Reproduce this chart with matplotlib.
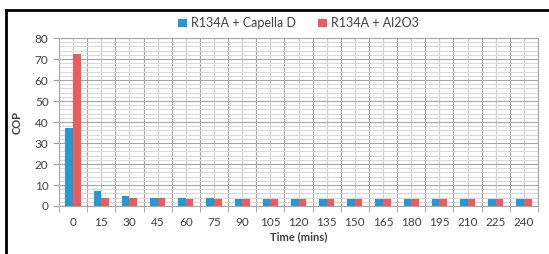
import matplotlib
matplotlib.use("Agg")
from matplotlib import pyplot as plt
from matplotlib.lines import Line2D
from matplotlib.ticker import MultipleLocator, FixedLocator
import numpy as np

times = [0, 15, 30, 45, 60, 75, 90, 105, 120, 135, 150, 165, 180, 195, 210, 225, 240]
capella = [37.0, 7.0, 4.6, 4.0, 3.7, 3.7, 3.2, 3.2, 3.2, 3.2, 3.2, 3.2, 3.2, 3.2, 3.2, 3.2, 3.2]
al2o3 = [72.4, 4.0, 4.0, 3.7, 3.2, 3.2, 3.2, 3.2, 3.2, 3.2, 3.2, 3.2, 3.2, 3.2, 3.2, 3.2, 3.2]

plt.rcParams['font.family'] = ['Lato', 'DejaVu Sans']

fig = plt.figure(figsize=(5.49, 2.54), dpi=100)
ax = fig.add_axes([0.1075, 0.189, 0.8725, 0.661])

x = np.arange(len(times))
barWidth = 0.27
ax.bar(x - barWidth / 2, capella, width=barWidth, color='#219bd6', label='R134A + Capella D', zorder=3)
ax.bar(x + barWidth / 2, al2o3, width=barWidth, color='#ef5b5b', label='R134A + Al2O3', zorder=3)

ax.set_xlim(-0.5, len(times) - 0.5)
ax.set_ylim(0, 80)
ax.set_xticks(x)
ax.set_xticklabels([str(t) for t in times])
ax.xaxis.set_minor_locator(FixedLocator(np.arange(len(times) + 1) - 0.5))
ax.yaxis.set_major_locator(MultipleLocator(10))
ax.yaxis.set_minor_locator(MultipleLocator(2))

ax.tick_params(axis='x', which='major', length=0, pad=8, labelsize=8.5, colors='#404040')
ax.tick_params(axis='x', which='minor', length=4, color='#a0a0a0')
ax.tick_params(axis='y', which='major', length=4, color='#a0a0a0', labelsize=8.5, labelcolor='#404040')
ax.tick_params(axis='y', which='minor', length=0)

ax.grid(axis='y', which='major', color='#a6a6a6', linewidth=0.8, zorder=0)
ax.grid(axis='y', which='minor', color='#d9d9d9', linewidth=0.8, zorder=0)
ax.grid(axis='x', which='minor', color='#a6a6a6', linewidth=0.8, zorder=0)
ax.grid(axis='x', which='major', color='#d0d0d0', linewidth=0.8, zorder=0)
ax.set_axisbelow(True)

for s in ax.spines.values():
    s.set_color('#a6a6a6')
    s.set_linewidth(0.8)

ax.set_ylabel('COP', fontsize=8, fontweight='bold', color='#404040')
ax.set_xlabel('Time (mins)', fontsize=8, fontweight='bold', color='#404040')
ax.yaxis.set_label_coords(-0.077, 0.5)
ax.xaxis.set_label_coords(0.5, -0.15)

ax.legend(loc='lower center', bbox_to_anchor=(0.5, 1.0), ncol=2, frameon=False,
          fontsize=9, handlelength=0.7, handleheight=0.7, handletextpad=0.3,
          columnspacing=1.8, borderaxespad=0.3, labelcolor='#404040')

# outer frame (top and left edges)
fig.add_artist(Line2D([0.011, 1.0], [0.96, 0.96], color='black', linewidth=2))
fig.add_artist(Line2D([0.011, 0.011], [0.0, 0.96], color='black', linewidth=2))

plt.savefig("out.png", dpi=100)
